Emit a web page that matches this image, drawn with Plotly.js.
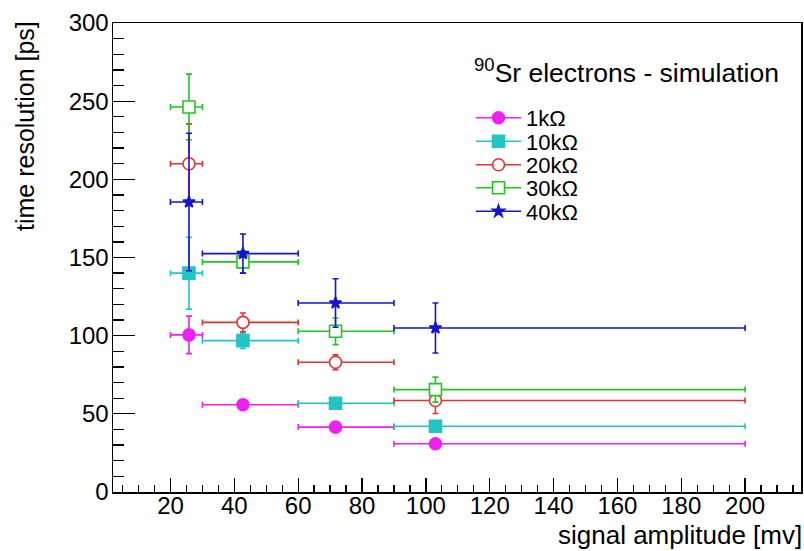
<!DOCTYPE html>
<html>
<head>
<meta charset="utf-8">
<script src="https://cdn.plot.ly/plotly-3.0.1.min.js"></script>
<style>html,body{margin:0;padding:0;background:#fff;}#chart{width:804px;height:551px;}</style>
</head>
<body>
<div id="chart"></div>
<script>
// x bins (signal amplitude, mV)
const xMean = [25.8, 42.7, 71.7, 103];
const xLow  = [20, 30, 60, 90];
const xHigh = [30, 60, 90, 200];

// series: time resolution [ps] and errors
const seriesNames = ["1k\u03A9", "10k\u03A9", "20k\u03A9", "30k\u03A9", "40k\u03A9"];
const y1k  = [100.5, 55.8, 41.5, 30.9];
const e1k  = [12, 2, 2, 1.5];
const y10k = [140, 96.8, 56.8, 42.1];
const e10k = [23, 5, 3.5, 2];
const y20k = [210, 108.5, 83, 58.5];
const e20k = [25.5, 6, 4.7, 8.3];
const y30k = [246.3, 147.2, 102.8, 65.5];
const e30k = [21, 7, 8.5, 8];
const y40k = [185.5, 152.5, 120.9, 104.9];
const e40k = [44, 12.5, 15.5, 16];

const yTickVals = [0, 50, 100, 150, 200, 250, 300];
const xTickVals = [20, 40, 60, 80, 100, 120, 140, 160, 180, 200];

const ys = [y1k, y10k, y20k, y30k, y40k];
const es = [e1k, e10k, e20k, e30k, e40k];
const colors = ["#f020f0", "#22c4c4", "#e83030", "#22c422", "#1515d0"];
const symbols = ["circle", "square", "circle", "square", "star"];
const fills = ["#f020f0", "#22c4c4", "#ffffff", "#ffffff", "#1515d0"];
const sizes = [12, 12, 12, 12, 9];

const errPlus = xMean.map((m, i) => xHigh[i] - m);
const errMinus = xMean.map((m, i) => m - xLow[i]);

const traces = [];
ys.forEach((y, k) => {
  traces.push({
    type: "scatter", mode: "markers", x: xMean, y: y, showlegend: false,
    marker: {symbol: symbols[k], size: sizes[k], color: fills[k], line: {color: colors[k], width: 1.6}},
    error_y: {type: "data", array: es[k], visible: true, color: colors[k], thickness: 1.6, width: 3},
    error_x: {type: "data", symmetric: false, array: errPlus, arrayminus: errMinus, visible: true, color: colors[k], thickness: 1.6, width: 3},
    cliponaxis: false
  });
});
// legend entries (line + marker)
const legendY = [118, 141.5, 165, 188, 211.5];
const W = 804, H = 551, ml = 113, mr = 3, mt = 23, mb = 59;
const pw = W - ml - mr, ph = H - mt - mb;
const px2x = p => (p - ml) / pw;
const py2y = p => (H - mb - p) / ph;

ys.forEach((y, k) => {
  traces.push({
    type: "scatter", mode: "lines+markers", x: [null], y: [null], name: seriesNames[k],
    legend: k === 0 ? "legend" : "legend" + (k + 1),
    line: {color: colors[k], width: 1.6},
    marker: {symbol: symbols[k], size: sizes[k], color: fills[k], line: {color: colors[k], width: 1.6}}
  });
});

const font = "Liberation Sans, Arial, sans-serif";
const layout = {
  width: W, height: H,
  margin: {l: ml, r: mr, t: mt, b: mb},
  paper_bgcolor: "#ffffff", plot_bgcolor: "#ffffff",
  font: {family: font, color: "#000"},
  xaxis: {
    range: [2, 217.5], tickvals: xTickVals, ticks: "inside", ticklen: 14, tickwidth: 1.3, tickcolor: "#000",
    showgrid: false, zeroline: false, showline: true, mirror: true, linecolor: "#000", linewidth: 1.5,
    tickfont: {size: 24, family: font}, ticklabelstandoff: -8,
    minor: {dtick: 5, tick0: 0, ticks: "inside", ticklen: 7, tickwidth: 1.3, tickcolor: "#000", showgrid: false}
  },
  yaxis: {
    range: [0, 300], tickvals: yTickVals, ticks: "inside", ticklen: 22, tickwidth: 1.3, tickcolor: "#000",
    showgrid: false, zeroline: false, showline: true, mirror: true, linecolor: "#000", linewidth: 1.5,
    tickfont: {size: 24, family: font}, ticklabelstandoff: -2,
    minor: {dtick: 10, tick0: 0, ticks: "inside", ticklen: 11, tickwidth: 1.3, tickcolor: "#000", showgrid: false}
  },
  annotations: [
    {text: "<sup>90</sup>Sr electrons - simulation", xref: "paper", yref: "paper", x: px2x(472), y: py2y(71),
     xanchor: "left", yanchor: "middle", showarrow: false, font: {size: 26.5, family: font, color: "#000"}},
    {text: "time resolution [ps]", xref: "paper", yref: "paper", x: px2x(25), y: py2y(19), textangle: -90,
     xanchor: "center", yanchor: "top", showarrow: false, font: {size: 25, family: font, color: "#000"}},
    {text: "signal amplitude [mv]", xref: "paper", yref: "paper", x: px2x(804), y: py2y(535),
     xanchor: "right", yanchor: "middle", showarrow: false, font: {size: 26, family: font, color: "#000"}}
  ]
};
legendY.forEach((py, k) => {
  const key = k === 0 ? "legend" : "legend" + (k + 1);
  layout[key] = {x: px2x(471), y: py2y(py), xanchor: "left", yanchor: "middle",
    bgcolor: "rgba(0,0,0,0)", borderwidth: 0, itemwidth: 45,
    font: {size: 22, family: font, color: "#000"}};
});

Plotly.newPlot("chart", traces, layout, {displayModeBar: false, staticPlot: true});
</script>
</body>
</html>
